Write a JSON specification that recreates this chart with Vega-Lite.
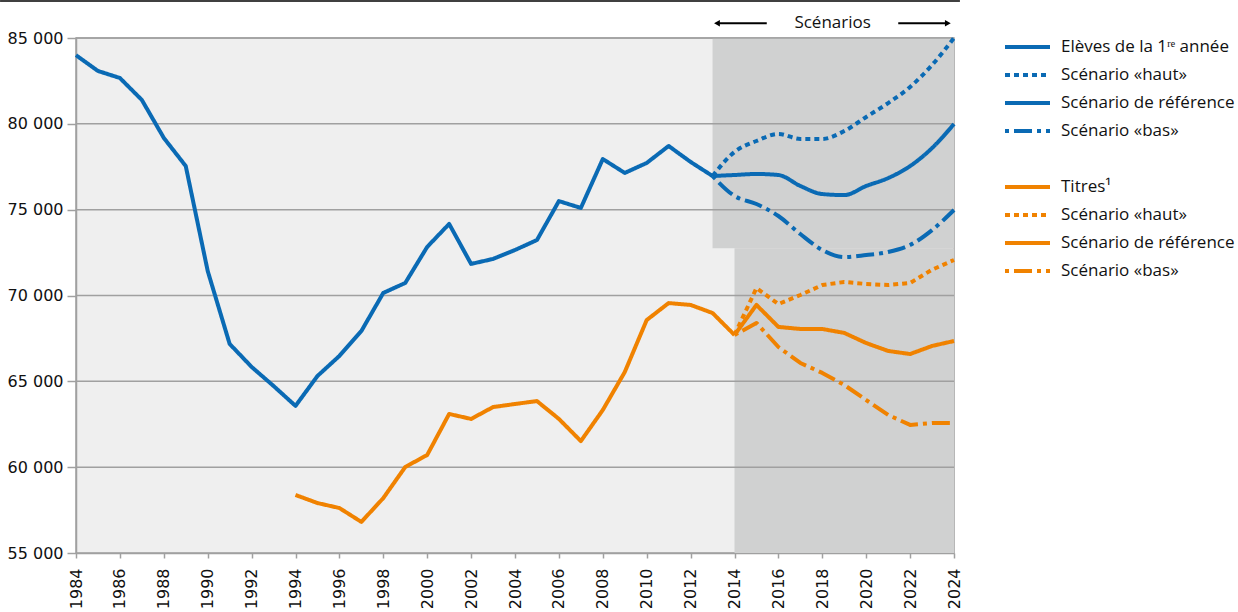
{
  "$schema": "https://vega.github.io/schema/vega-lite/v6.json",
  "width": 878,
  "height": 515,
  "autosize": "none",
  "padding": {"left": 76, "top": 38, "right": 284, "bottom": 59},
  "background": "white",
  "config": {
    "view": {"fill": "#efefef", "stroke": "#a0a0a0", "strokeWidth": 1.5},
    "axis": {"labelFont": "DejaVu Sans", "labelFontSize": 16, "labelColor": "#111", "domainColor": "#a0a0a0", "domainWidth": 1.5, "tickColor": "#a0a0a0", "tickWidth": 1.5, "grid": false, "title": null}
  },
  "datasets": {
    "hist": [
      {"year": 1984, "value": 84000, "series": "b0"},
      {"year": 1985, "value": 83080, "series": "b0"},
      {"year": 1986, "value": 82670, "series": "b0"},
      {"year": 1987, "value": 81390, "series": "b0"},
      {"year": 1988, "value": 79180, "series": "b0"},
      {"year": 1989, "value": 77540, "series": "b0"},
      {"year": 1990, "value": 71430, "series": "b0"},
      {"year": 1991, "value": 67180, "series": "b0"},
      {"year": 1992, "value": 65840, "series": "b0"},
      {"year": 1993, "value": 64730, "series": "b0"},
      {"year": 1994, "value": 63570, "series": "b0"},
      {"year": 1995, "value": 65310, "series": "b0"},
      {"year": 1996, "value": 66480, "series": "b0"},
      {"year": 1997, "value": 67930, "series": "b0"},
      {"year": 1998, "value": 70150, "series": "b0"},
      {"year": 1999, "value": 70730, "series": "b0"},
      {"year": 2000, "value": 72830, "series": "b0"},
      {"year": 2001, "value": 74170, "series": "b0"},
      {"year": 2002, "value": 71840, "series": "b0"},
      {"year": 2003, "value": 72130, "series": "b0"},
      {"year": 2004, "value": 72650, "series": "b0"},
      {"year": 2005, "value": 73230, "series": "b0"},
      {"year": 2006, "value": 75500, "series": "b0"},
      {"year": 2007, "value": 75100, "series": "b0"},
      {"year": 2008, "value": 77950, "series": "b0"},
      {"year": 2009, "value": 77140, "series": "b0"},
      {"year": 2010, "value": 77720, "series": "b0"},
      {"year": 2011, "value": 78710, "series": "b0"},
      {"year": 2012, "value": 77780, "series": "b0"},
      {"year": 2013, "value": 76960, "series": "b0"},
      {"year": 1994, "value": 58380, "series": "o0"},
      {"year": 1995, "value": 57910, "series": "o0"},
      {"year": 1996, "value": 57620, "series": "o0"},
      {"year": 1997, "value": 56810, "series": "o0"},
      {"year": 1998, "value": 58200, "series": "o0"},
      {"year": 1999, "value": 60010, "series": "o0"},
      {"year": 2000, "value": 60710, "series": "o0"},
      {"year": 2001, "value": 63100, "series": "o0"},
      {"year": 2002, "value": 62810, "series": "o0"},
      {"year": 2003, "value": 63500, "series": "o0"},
      {"year": 2004, "value": 63680, "series": "o0"},
      {"year": 2005, "value": 63850, "series": "o0"},
      {"year": 2006, "value": 62810, "series": "o0"},
      {"year": 2007, "value": 61520, "series": "o0"},
      {"year": 2008, "value": 63330, "series": "o0"},
      {"year": 2009, "value": 65540, "series": "o0"},
      {"year": 2010, "value": 68570, "series": "o0"},
      {"year": 2011, "value": 69560, "series": "o0"},
      {"year": 2012, "value": 69450, "series": "o0"},
      {"year": 2013, "value": 68980, "series": "o0"},
      {"year": 2014, "value": 67700, "series": "o0"}
    ],
    "scenBlue": [
      {"year": 2013, "value": 76960, "series": "b1"},
      {"year": 2014, "value": 78360, "series": "b1"},
      {"year": 2015, "value": 79000, "series": "b1"},
      {"year": 2016, "value": 79410, "series": "b1"},
      {"year": 2017, "value": 79120, "series": "b1"},
      {"year": 2018, "value": 79120, "series": "b1"},
      {"year": 2019, "value": 79580, "series": "b1"},
      {"year": 2020, "value": 80400, "series": "b1"},
      {"year": 2021, "value": 81210, "series": "b1"},
      {"year": 2022, "value": 82150, "series": "b1"},
      {"year": 2023, "value": 83430, "series": "b1"},
      {"year": 2024, "value": 85000, "series": "b1"},
      {"year": 2013, "value": 76960, "series": "b2"},
      {"year": 2014, "value": 77020, "series": "b2"},
      {"year": 2015, "value": 77080, "series": "b2"},
      {"year": 2016, "value": 77020, "series": "b2"},
      {"year": 2017, "value": 76380, "series": "b2"},
      {"year": 2018, "value": 75910, "series": "b2"},
      {"year": 2019, "value": 75850, "series": "b2"},
      {"year": 2020, "value": 76380, "series": "b2"},
      {"year": 2021, "value": 76840, "series": "b2"},
      {"year": 2022, "value": 77540, "series": "b2"},
      {"year": 2023, "value": 78590, "series": "b2"},
      {"year": 2024, "value": 79990, "series": "b2"},
      {"year": 2013, "value": 76960, "series": "b3"},
      {"year": 2014, "value": 75800, "series": "b3"},
      {"year": 2015, "value": 75330, "series": "b3"},
      {"year": 2016, "value": 74630, "series": "b3"},
      {"year": 2017, "value": 73580, "series": "b3"},
      {"year": 2018, "value": 72650, "series": "b3"},
      {"year": 2019, "value": 72240, "series": "b3"},
      {"year": 2020, "value": 72360, "series": "b3"},
      {"year": 2021, "value": 72530, "series": "b3"},
      {"year": 2022, "value": 72940, "series": "b3"},
      {"year": 2023, "value": 73810, "series": "b3"},
      {"year": 2024, "value": 74980, "series": "b3"}
    ],
    "scenOrange": [
      {"year": 2014, "value": 67700, "series": "o1"},
      {"year": 2015, "value": 70430, "series": "o1"},
      {"year": 2016, "value": 69500, "series": "o1"},
      {"year": 2017, "value": 70030, "series": "o1"},
      {"year": 2018, "value": 70610, "series": "o1"},
      {"year": 2019, "value": 70790, "series": "o1"},
      {"year": 2020, "value": 70670, "series": "o1"},
      {"year": 2021, "value": 70610, "series": "o1"},
      {"year": 2022, "value": 70730, "series": "o1"},
      {"year": 2023, "value": 71500, "series": "o1"},
      {"year": 2024, "value": 72070, "series": "o1"},
      {"year": 2014, "value": 67700, "series": "o2"},
      {"year": 2015, "value": 69450, "series": "o2"},
      {"year": 2016, "value": 68170, "series": "o2"},
      {"year": 2017, "value": 68050, "series": "o2"},
      {"year": 2018, "value": 68050, "series": "o2"},
      {"year": 2019, "value": 67820, "series": "o2"},
      {"year": 2020, "value": 67230, "series": "o2"},
      {"year": 2021, "value": 66770, "series": "o2"},
      {"year": 2022, "value": 66590, "series": "o2"},
      {"year": 2023, "value": 67060, "series": "o2"},
      {"year": 2024, "value": 67350, "series": "o2"},
      {"year": 2014, "value": 67700, "series": "o3"},
      {"year": 2015, "value": 68400, "series": "o3"},
      {"year": 2016, "value": 67000, "series": "o3"},
      {"year": 2017, "value": 66070, "series": "o3"},
      {"year": 2018, "value": 65490, "series": "o3"},
      {"year": 2019, "value": 64790, "series": "o3"},
      {"year": 2020, "value": 63910, "series": "o3"},
      {"year": 2021, "value": 63040, "series": "o3"},
      {"year": 2022, "value": 62460, "series": "o3"},
      {"year": 2023, "value": 62570, "series": "o3"},
      {"year": 2024, "value": 62570, "series": "o3"}
    ]
  },
  "layer": [
    {
      "data": {"values": [
        {"x1": 2013, "x2": 2024, "y1": 72750, "y2": 85000},
        {"x1": 2014, "x2": 2024, "y1": 55000, "y2": 72750}
      ]},
      "mark": {"type": "rect", "color": "#d0d1d1"},
      "encoding": {
        "x": {"field": "x1", "type": "quantitative", "scale": {"domain": [1984, 2024], "nice": false, "zero": false},
          "axis": {"values": [1984,1985,1986,1987,1988,1989,1990,1991,1992,1993,1994,1995,1996,1997,1998,1999,2000,2001,2002,2003,2004,2005,2006,2007,2008,2009,2010,2011,2012,2013,2014,2015,2016,2017,2018,2019,2020,2021,2022,2023,2024],
            "labelExpr": "datum.value % 2 === 0 ? '' + datum.value : ''", "labelAngle": -90, "labelPadding": 10, "tickSize": 5, "labelOverlap": false, "labelFlush": false}},
        "x2": {"field": "x2"},
        "y": {"field": "y1", "type": "quantitative", "scale": {"domain": [55000, 85000], "nice": false, "zero": false},
          "axis": {"values": [55000, 60000, 65000, 70000, 75000, 80000, 85000], "labelExpr": "replace(format(datum.value, ','), ',', ' ')", "tickSize": 9, "labelPadding": 4}},
        "y2": {"field": "y2"}
      }
    },
    {
      "data": {"values": [{"g": 60000}, {"g": 65000}, {"g": 70000}, {"g": 75000}, {"g": 80000}, {"g": 85000}]},
      "mark": {"type": "rule", "color": "#a0a0a0", "strokeWidth": 1.5},
      "encoding": {"y": {"field": "g", "type": "quantitative"}}
    },
    {
      "data": {"values": [{"x1": 1980.54, "x2": 2024.27, "y": 87150}]},
      "mark": {"type": "rule", "color": "#000000", "strokeWidth": 1.5},
      "encoding": {"x": {"field": "x1", "type": "quantitative"}, "x2": {"field": "x2"}, "y": {"field": "y", "type": "quantitative"}}
    },
    {
      "data": {"values": [{"x": 2018.47, "y": 85860, "t": "Scénarios"}]},
      "mark": {"type": "text", "font": "Open Sans", "fontSize": 17, "color": "#111", "baseline": "middle", "align": "center"},
      "encoding": {"x": {"field": "x", "type": "quantitative"}, "y": {"field": "y", "type": "quantitative"}, "text": {"field": "t"}}
    },
    {
      "data": {"values": [{"x1": 2013.3, "x2": 2015.47, "y": 85860}, {"x1": 2021.46, "x2": 2023.62, "y": 85860}]},
      "mark": {"type": "rule", "color": "#000000", "strokeWidth": 2},
      "encoding": {"x": {"field": "x1", "type": "quantitative"}, "x2": {"field": "x2"}, "y": {"field": "y", "type": "quantitative"}}
    },
    {
      "data": {"values": [{"x": 2013.2, "y": 85860, "s": "triangle-left"}, {"x": 2023.72, "y": 85860, "s": "triangle-right"}]},
      "mark": {"type": "point", "filled": true, "color": "#000000", "size": 45, "opacity": 1},
      "encoding": {"x": {"field": "x", "type": "quantitative"}, "y": {"field": "y", "type": "quantitative"},
        "shape": {"field": "s", "type": "nominal", "scale": {"domain": ["triangle-left", "triangle-right"], "range": ["triangle-left", "triangle-right"]}, "legend": null}}
    },
    {
      "data": {"name": "hist"},
      "mark": {"type": "line", "strokeWidth": 4, "strokeJoin": "round"},
      "encoding": {
        "x": {"field": "year", "type": "quantitative"},
        "y": {"field": "value", "type": "quantitative"},
        "color": {"field": "series", "type": "nominal",
          "scale": {"domain": ["b0","b1","b2","b3","gap","o0","o1","o2","o3"], "range": ["#0a6ab4","#0a6ab4","#0a6ab4","#0a6ab4","transparent","#f08200","#f08200","#f08200","#f08200"]},
          "legend": {"title": null, "orient": "none", "legendX": 927, "legendY": -3, "symbolType": "stroke", "symbolSize": 2025, "symbolStrokeWidth": 4,
            "labelFont": "Open Sans", "labelFontSize": 17, "labelColor": "#111", "labelOffset": 9, "clipHeight": 24, "rowPadding": 4, "labelLimit": 300,
            "labelExpr": "{'b0': 'Elèves de la 1ʳᵉ année', 'b1': 'Scénario «haut»', 'b2': 'Scénario de référence', 'b3': 'Scénario «bas»', 'gap': '', 'o0': 'Titres¹', 'o1': 'Scénario «haut»', 'o2': 'Scénario de référence', 'o3': 'Scénario «bas»'}[datum.value]"}},
        "strokeDash": {"field": "series", "type": "nominal",
          "scale": {"domain": ["b0","b1","b2","b3","gap","o0","o1","o2","o3"], "range": [[1,0],[5,4],[1,0],[4,5,18,5],[1,0],[1,0],[5,4],[1,0],[4,5,18,5]]},
          "legend": {"title": null}}
      }
    },
    {
      "data": {"name": "scenBlue"},
      "mark": {"type": "line", "strokeWidth": 4, "interpolate": "monotone"},
      "encoding": {
        "x": {"field": "year", "type": "quantitative"},
        "y": {"field": "value", "type": "quantitative"},
        "color": {"field": "series", "type": "nominal"},
        "strokeDash": {"field": "series", "type": "nominal"}
      }
    },
    {
      "data": {"name": "scenOrange"},
      "mark": {"type": "line", "strokeWidth": 4, "strokeJoin": "round"},
      "encoding": {
        "x": {"field": "year", "type": "quantitative"},
        "y": {"field": "value", "type": "quantitative"},
        "color": {"field": "series", "type": "nominal"},
        "strokeDash": {"field": "series", "type": "nominal"}
      }
    }
  ]
}
